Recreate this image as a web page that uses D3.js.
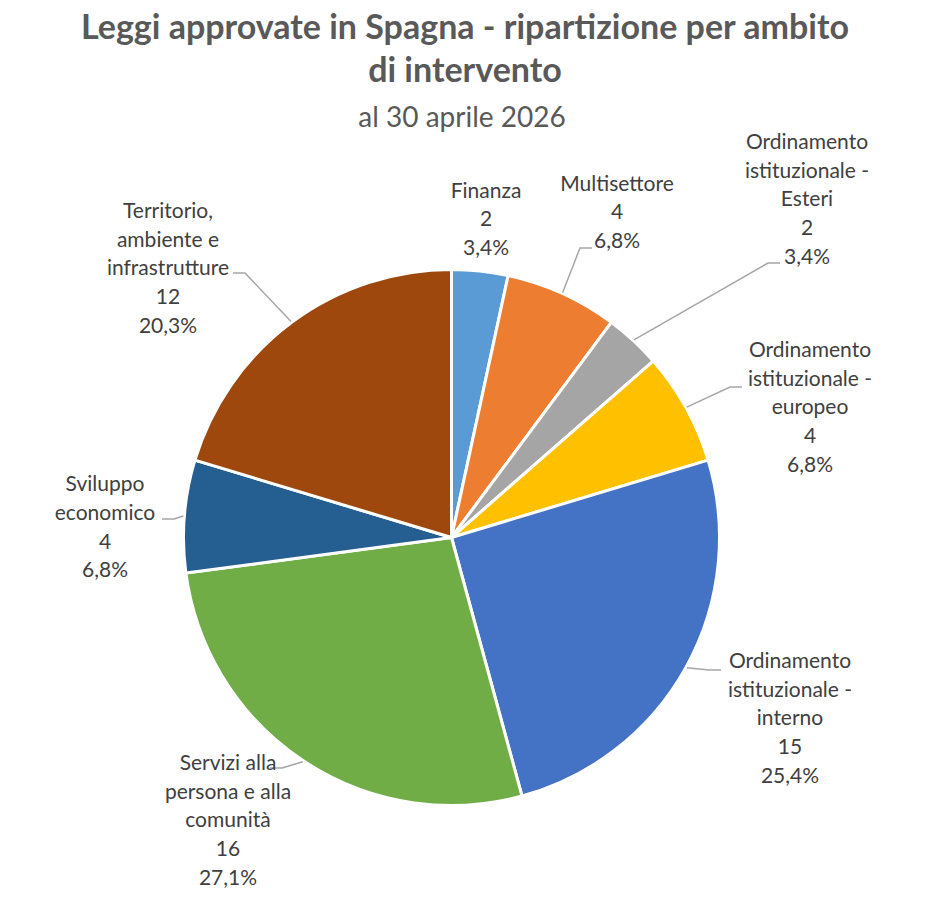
<!DOCTYPE html>
<html>
<head>
<meta charset="utf-8">
<script src="https://cdn.jsdelivr.net/npm/d3@7"></script>
<style>
  body { margin: 0; background: #fff; }
  text { font-family: Lato, "Noto Sans", sans-serif; }
</style>
</head>
<body>
<div id="chart"></div>
<script>
// data
const categories = [
    "Finanza",
    "Multisettore",
    "Ordinamento istituzionale - Esteri",
    "Ordinamento istituzionale - europeo",
    "Ordinamento istituzionale - interno",
    "Servizi alla persona e alla comunità",
    "Sviluppo economico",
    "Territorio, ambiente e infrastrutture"
];
const values = [2, 4, 2, 4, 15, 16, 4, 12];
// category text as it is wrapped in the labels
const labelLines = [
    ["Finanza"],
    ["Multisettore"],
    ["Ordinamento", "istituzionale -", "Esteri"],
    ["Ordinamento", "istituzionale -", "europeo"],
    ["Ordinamento", "istituzionale -", "interno"],
    ["Servizi alla", "persona e alla", "comunità"],
    ["Sviluppo", "economico"],
    ["Territorio,", "ambiente e", "infrastrutture"]
];
const colors = ["#5B9BD5", "#ED7D31", "#A5A5A5", "#FFC000", "#4472C4", "#70AD47", "#255E91", "#9E480E"];

const width = 931, height = 901;
const cx = 451.5, cy = 537.5, radius = 268;
const lineH = 28.6;

// label placement relative to the pie centre: [label x, label middle y, leader attach x, attach y]
const labelPos = [
    [34.5, -318.5, null, null],
    [165.5, -325.5, 140.5, -289.5],
    [355.5, -338.5, 328.5, -274.5],
    [358.5, -130.5, 290.5, -150.5],
    [338.5, 180.5, 269.5, 132.5],
    [-223.5, 282.5, -181.5, 230.5],
    [-346.5, -10.5, -289.5, -18.5],
    [-283.5, -269.5, -218.5, -264.5]
];

const total = d3.sum(values);
const fmtPct = v => (v / total * 100).toFixed(1).replace(".", ",") + "%";

const svg = d3.select("#chart").append("svg")
    .attr("width", width)
    .attr("height", height);

// title
svg.append("text")
    .attr("x", 465).attr("y", 39)
    .attr("text-anchor", "middle")
    .attr("fill", "#595959")
    .style("font-size", "34px").style("font-weight", "bold")
    .text("Leggi approvate in Spagna - ripartizione per ambito");
svg.append("text")
    .attr("x", 465).attr("y", 82)
    .attr("text-anchor", "middle")
    .attr("fill", "#595959")
    .style("font-size", "34px").style("font-weight", "bold")
    .text("di intervento");
svg.append("text")
    .attr("x", 462).attr("y", 127)
    .attr("text-anchor", "middle")
    .attr("fill", "#595959")
    .style("font-size", "28px")
    .text("al 30 aprile 2026");

const pie = d3.pie().sort(null).value(d => d);
const arcs = pie(values);

const arc = d3.arc().innerRadius(0).outerRadius(radius);
const edgeArc = d3.arc().innerRadius(radius + 1).outerRadius(radius + 1);

const g = svg.append("g").attr("transform", "translate(" + cx + "," + cy + ")");

g.selectAll("path.slice")
    .data(arcs)
    .join("path")
    .attr("class", "slice")
    .attr("d", arc)
    .attr("fill", (d, i) => colors[i])
    .attr("stroke", "#fff")
    .attr("stroke-width", 3)
    .attr("stroke-linejoin", "round");

// leader lines
g.selectAll("polyline.leader")
    .data(arcs.filter((d, i) => labelPos[i][2] !== null))
    .join("polyline")
    .attr("class", "leader")
    .attr("fill", "none")
    .attr("stroke", "#A6A6A6")
    .attr("stroke-width", 1.5)
    .attr("points", d => {
        const p = labelPos[d.index];
        const e = edgeArc.centroid(d);
        const dir = p[2] > e[0] ? -1 : 1;
        const elbow = [p[2] + dir * 12, p[3]];
        return [e, elbow, [p[2], p[3]]].map(q => q.join(",")).join(" ");
    });

// data labels
const labels = g.selectAll("text.lbl")
    .data(arcs)
    .join("text")
    .attr("class", "lbl")
    .attr("text-anchor", "middle")
    .attr("fill", "#404040")
    .style("font-size", "21px");

labels.each(function (d, i) {
    const lines = labelLines[i].concat([String(values[i]), fmtPct(values[i])]);
    const p = labelPos[i];
    const y0 = p[1] - (lines.length - 1) * lineH / 2;
    d3.select(this).selectAll("tspan")
        .data(lines)
        .join("tspan")
        .attr("x", p[0])
        .attr("y", (t, k) => y0 + k * lineH)
        .attr("dy", "0.35em")
        .text(t => t);
});
</script>
</body>
</html>
